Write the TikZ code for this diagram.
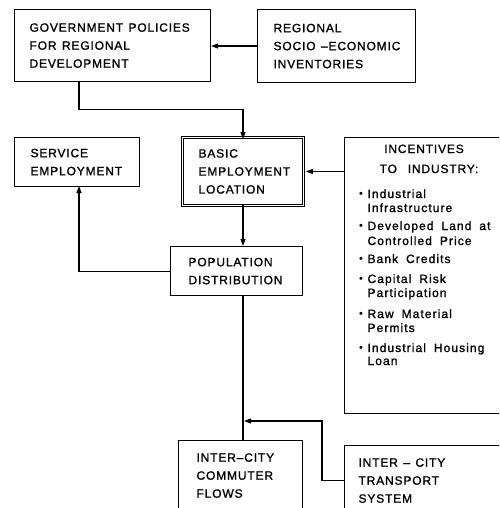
\documentclass[tikz,border=0pt]{standalone}
\usepackage{fontspec}
\setmainfont{Liberation Sans}
\newfontfamily\capsfont{Liberation Sans}[LetterSpace=7,WordSpace=1.3,FakeBold=1.2]
\newfontfamily\lcfont{Liberation Sans}[LetterSpace=9,WordSpace=1.8,FakeBold=1.4]
\usetikzlibrary{arrows.meta}
\begin{document}
\begin{tikzpicture}[x=1pt,y=-1pt,line width=1.1pt,
  bx/.style={draw, anchor=north west, inner sep=0pt},
  txt/.style={anchor=west, align=left, inner sep=0pt, font=\capsfont\fontsize{12}{18}\selectfont},
  lc/.style={inner sep=0pt, font=\lcfont\fontsize{12}{14}\selectfont},
  arr/.style={-{Triangle[length=7pt,width=5pt]}}]
\useasboundingbox (0,0) rectangle (499,508);
\clip (0,0) rectangle (499,508);
% boxes
\node[bx, minimum width=196pt, minimum height=72pt] (gov) at (14,9) {};
\node[txt] (govt) at ([xshift=15pt]gov.west) {GOVERNMENT POLICIES\\FOR REGIONAL\\DEVELOPMENT};
\node[bx, minimum width=158pt, minimum height=73pt] (reg) at (257,9) {};
\node[txt] (regt) at ([xshift=16pt]reg.west) {REGIONAL\\SOCIO –ECONOMIC\\INVENTORIES};
\node[bx, minimum width=125pt, minimum height=49pt] (serv) at (14,137) {};
\node[txt] (servt) at ([xshift=16pt]serv.west) {SERVICE\\EMPLOYMENT};
\node[bx, double, double distance=1.8pt, line width=0.9pt, minimum width=121pt, minimum height=68pt] (basic) at (182,137) {};
\node[txt] (basict) at ([xshift=16pt]basic.west) {BASIC\\EMPLOYMENT\\LOCATION};
\node[bx, minimum width=132pt, minimum height=49pt] (pop) at (170,246) {};
\node[txt] (popt) at ([xshift=18pt]pop.west) {POPULATION\\DISTRIBUTION};
\node[bx, minimum width=170pt, minimum height=276pt] (inc) at (344,137) {};
\node[anchor=base, inner sep=0pt, font=\capsfont\fontsize{12}{18}\selectfont] (inct1) at (424,153) {INCENTIVES};
\node[anchor=base, inner sep=0pt, font=\capsfont\fontsize{12}{18}\selectfont] (inct2) at (429,173) {TO\ \ INDUSTRY:};
\foreach \i/\yy/\b/\s in {1/198/1/Industrial, 2/212/0/Infrastructure, 3/230/1/Developed Land at, 4/245/0/Controlled Price, 5/263/1/Bank Credits, 6/283/1/Capital Risk, 7/297/0/Participation, 8/318/1/Raw Material, 9/332/0/Permits, 10/352/1/Industrial Housing, 11/365/0/Loan}{
  \node[lc, anchor=base west] (l\i) at (367,\yy) {\s};
  \ifnum\b=1 \node[inner sep=0pt, anchor=base, font=\fontsize{11}{11}\selectfont] (b\i) at (361,\yy-1) {\textbullet};\fi
}
\node[bx, minimum width=124pt, minimum height=70pt] (comm) at (178,440) {};
\node[txt] (commt) at ([xshift=18pt]comm.west) {INTER–CITY\\COMMUTER\\FLOWS};
\node[bx, minimum width=170pt, minimum height=70pt] (trans) at (344,445) {};
\node[txt] (transt) at ([xshift=14pt]trans.west) {INTER – CITY\\TRANSPORT\\SYSTEM};
% connectors
\draw[arr] (reg.west) -- (reg.west -| gov.east);
\coordinate (g1) at ([xshift=65pt]gov.south west);
\coordinate (bx1) at (243,137);
\draw[arr] (g1) -- ++(0,27) -| ([yshift=-2pt]bx1);
\draw[arr] (basic.east -| inc.west) -- ([xshift=2pt]basic.east);
\draw[arr] ([yshift=2pt]basic.south -| bx1) -- (bx1 |- pop.north);
\coordinate (s1) at (79,186);
\draw[arr] (pop.west) -| (s1);
\draw (bx1 |- pop.south) -- (bx1 |- comm.north);
\coordinate (jc) at (244,421);
\draw[arr] (trans.west) -- ++(-22,0) |- (jc);
\end{tikzpicture}
\end{document}
